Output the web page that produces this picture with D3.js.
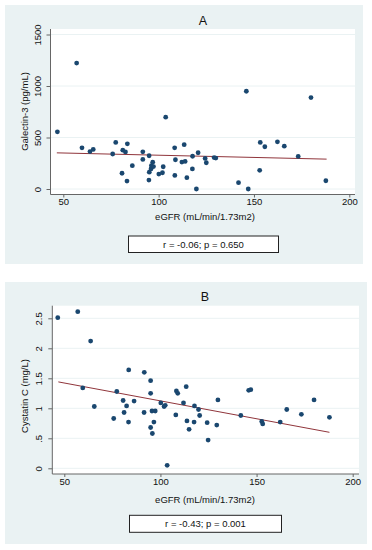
<!DOCTYPE html>
<html>
<head>
<meta charset="utf-8">
<script src="https://cdn.jsdelivr.net/npm/d3@7"></script>
<style>
  html, body { margin: 0; padding: 0; background: #ffffff; }
  svg { display: block; font-family: "Liberation Sans", Arial, sans-serif; }
</style>
</head>
<body>
<svg id="chart" width="372" height="550"></svg>
<script>
// ---------------- DATA ----------------
const xTicks = [50, 100, 150, 200];

// Panel A: eGFR vs Galectin-3
const egfrA = [46.9, 57.0, 59.8, 64.0, 65.7, 75.9, 77.5, 80.8, 81.2, 82.6, 83.4, 83.6, 86.2,
  91.7, 91.7, 95.0, 94.9, 95.1, 96.0, 96.2, 96.9, 97.3, 100.1, 102.0, 102.4, 103.7,
  108.4, 108.8, 108.5, 112.2, 113.4, 113.9, 114.8, 117.7, 117.8, 119.8, 120.7, 124.4,
  125.0, 129.1, 130.0, 141.9, 146.0, 147.0, 153.0, 153.3, 155.7, 162.3, 165.9, 173.2,
  179.9, 187.7];
const galectin = [555, 1223, 400, 363, 384, 340, 452, 153, 377, 360, 77, 439, 226,
  361, 287, 323, 87, 163, 195, 226, 260, 218, 145, 158, 216, 697,
  400, 284, 132, 261, 430, 268, 110, 195, 318, 0, 352, 297,
  255, 305, 300, 61, 949, 0, 181, 452, 410, 458, 416, 316,
  888, 80];
const yTicksA = [0, 500, 1000, 1500];
const yTickLabelsA = ["0", "500", "1000", "1500"];
const fitXA = [46.6, 188.1];
const fitYA = [351, 290];
const statA = "r = -0.06; p = 0.650";

// Panel B: eGFR vs Cystatin C
const egfrB = [46.6, 57.0, 59.6, 63.7, 65.6, 75.7, 77.3, 80.6, 81.1, 82.4, 83.4, 83.5, 86.3,
  91.5, 91.6, 94.9, 94.9, 94.9, 95.8, 95.6, 97.3, 96.6, 100.2, 101.9, 102.5, 103.5,
  108.0, 108.3, 109.0, 112.0, 113.4, 113.8, 114.9, 117.5, 117.7, 119.8, 120.4, 124.3,
  124.8, 129.3, 129.9, 141.8, 145.9, 147.0, 152.7, 153.2, 162.3, 165.7, 173.3, 179.9,
  187.9];
const cystatin = [2.51, 2.61, 1.34, 2.12, 1.03, 0.83, 1.28, 1.13, 0.93, 1.04, 0.77, 1.64, 1.12,
  0.93, 1.60, 1.46, 1.25, 0.68, 0.58, 0.955, 0.955, 0.77, 1.09, 1.03, 1.05, 0.05,
  0.89, 1.29, 1.25, 1.09, 1.36, 0.79, 0.65, 0.77, 1.04, 0.98, 0.88, 0.76,
  0.47, 0.72, 1.14, 0.88, 1.30, 1.31, 0.78, 0.74, 0.77, 0.98, 0.90, 1.14,
  0.85];
const yTicksB = [0, 0.5, 1, 1.5, 2, 2.5];
const yTickLabelsB = ["0", ".5", "1", "1.5", "2", "2.5"];
const fitXB = [46.9, 187.9];
const fitYB = [1.44, 0.60];
const statB = "r = -0.43; p = 0.001";

const xTitle = "eGFR (mL/min/1.73m2)";

// ---------------- STYLE ----------------
const BG = "#EAF2F3";
const DOT = "#1A476F";
const FIT = "#90353B";
const AXIS = "#666666";
const TXT = "#111111";

const svg = d3.select("#chart");

function drawPanel(cfg) {
  const g = svg.append("g");
  // outer graph region
  g.append("rect").attr("x", cfg.bg[0]).attr("y", cfg.bg[1])
    .attr("width", cfg.bg[2] - cfg.bg[0]).attr("height", cfg.bg[3] - cfg.bg[1])
    .attr("fill", BG);
  // plot region
  g.append("rect").attr("x", cfg.plot[0]).attr("y", cfg.plot[1])
    .attr("width", cfg.plot[2] - cfg.plot[0]).attr("height", cfg.plot[3] - cfg.plot[1])
    .attr("fill", "#ffffff");

  const x = d3.scaleLinear().domain([50, 200]).range(cfg.xr);
  const y = d3.scaleLinear().domain(cfg.yDom).range(cfg.yr);

  // gridlines
  g.append("g").selectAll("line").data(cfg.yTicks).join("line")
    .attr("x1", cfg.plot[0]).attr("x2", cfg.plot[2])
    .attr("y1", d => y(d)).attr("y2", d => y(d))
    .attr("stroke", BG).attr("stroke-width", 1);

  // y axis
  const yAxis = d3.axisLeft(y).tickValues(cfg.yTicks)
    .tickFormat((d, i) => cfg.yLabels[i]).tickSize(4).tickPadding(3);
  const ya = g.append("g").attr("transform", `translate(${cfg.plot[0]},0)`).call(yAxis);
  ya.select(".domain").attr("d", `M0,${cfg.plot[1]}V${cfg.plot[3]}`).attr("stroke", AXIS);
  ya.selectAll(".tick line").attr("stroke", AXIS);
  ya.selectAll(".tick text")
    .attr("x", 0).attr("dy", 0)
    .attr("transform", "translate(-10,0) rotate(-90)")
    .attr("text-anchor", "middle")
    .attr("fill", TXT)
    .style("font-size", "9.5px")
    .style("font-family", "'Liberation Sans', Arial, sans-serif");

  // x axis
  const xAxis = d3.axisBottom(x).tickValues(xTicks).tickSize(3).tickPadding(1);
  const xa = g.append("g").attr("transform", `translate(0,${cfg.plot[3]})`).call(xAxis);
  xa.select(".domain").attr("d", `M${cfg.plot[0]},0H${cfg.plot[2]}`).attr("stroke", AXIS);
  xa.selectAll(".tick line").attr("stroke", AXIS);
  xa.selectAll(".tick text").attr("fill", TXT)
    .style("font-size", "9.5px")
    .style("font-family", "'Liberation Sans', Arial, sans-serif");

  // fitted line
  g.append("line")
    .attr("x1", x(cfg.fitX[0])).attr("y1", y(cfg.fitY[0]))
    .attr("x2", x(cfg.fitX[1])).attr("y2", y(cfg.fitY[1]))
    .attr("stroke", FIT).attr("stroke-width", 1);

  // points
  g.append("g").selectAll("circle").data(cfg.xs).join("circle")
    .attr("cx", d => x(d)).attr("cy", (d, i) => y(cfg.ys[i]))
    .attr("r", 2.4).attr("fill", DOT);

  // title
  g.append("text").attr("x", cfg.titlePos[0]).attr("y", cfg.titlePos[1])
    .attr("text-anchor", "middle").attr("fill", TXT)
    .style("font-size", "12.5px").text(cfg.title);

  // y title
  g.append("text")
    .attr("transform", `translate(${cfg.yTitlePos[0]},${cfg.yTitlePos[1]}) rotate(-90)`)
    .attr("text-anchor", "middle").attr("fill", TXT)
    .style("font-size", "9.5px").text(cfg.yTitle);

  // x title
  g.append("text").attr("x", cfg.xTitlePos[0]).attr("y", cfg.xTitlePos[1])
    .attr("text-anchor", "middle").attr("fill", TXT)
    .style("font-size", "9.5px").text(xTitle);

  // stats box
  const b = cfg.box;
  g.append("rect").attr("x", b[0]).attr("y", b[1]).attr("width", b[2] - b[0]).attr("height", b[3] - b[1])
    .attr("fill", "#ffffff").attr("stroke", "#222").attr("stroke-width", 1);
  g.append("text").attr("x", (b[0] + b[2]) / 2).attr("y", (b[1] + b[3]) / 2 + 3.3)
    .attr("text-anchor", "middle").attr("fill", TXT)
    .style("font-size", "9.5px").text(cfg.stat);
}

drawPanel({
  bg: [5, 5, 363, 264],
  plot: [50.5, 29, 355, 194.5],
  xr: [63.3, 349.3],
  yDom: [0, 1500],
  yr: [189, 34.5],
  yTicks: yTicksA, yLabels: yTickLabelsA,
  xs: egfrA, ys: galectin,
  fitX: fitXA, fitY: fitYA,
  title: "A", titlePos: [203, 24.5],
  yTitle: "Galectin-3 (pg/mL)", yTitlePos: [27.5, 111.5],
  xTitlePos: [205, 220],
  box: [128.5, 236, 278.5, 252.5],
  stat: statA
});

drawPanel({
  bg: [5, 282, 367, 544],
  plot: [52.3, 305.7, 359, 474],
  xr: [64.3, 352.7],
  yDom: [0, 2.5],
  yr: [468.3, 318.3],
  yTicks: yTicksB, yLabels: yTickLabelsB,
  xs: egfrB, ys: cystatin,
  fitX: fitXB, fitY: fitYB,
  title: "B", titlePos: [205, 300.5],
  yTitle: "Cystatin C (mg/L)", yTitlePos: [27.5, 396],
  xTitlePos: [205, 502.5],
  box: [129.5, 515.3, 281.5, 532.3],
  stat: statB
});
</script>
</body>
</html>
